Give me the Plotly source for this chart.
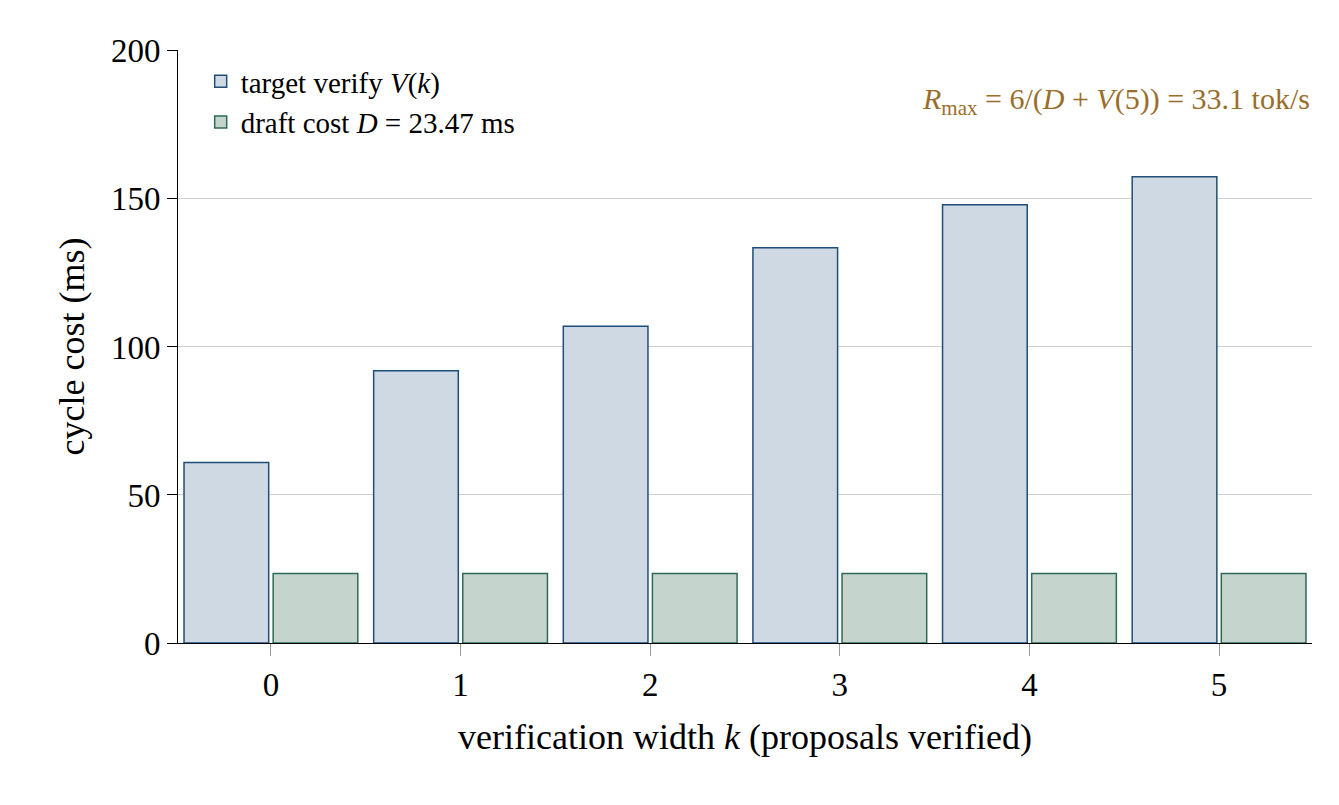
import plotly.graph_objects as go

k = [0, 1, 2, 3, 4, 5]
verify_ms = [61, 92, 107, 133.5, 148, 157.5]
draft_ms = [23.47] * 6
y_ticks = [0, 50, 100, 150, 200]

F = "Liberation Serif"
fig = go.Figure()
fig.add_bar(x=k, y=verify_ms, name="target verify <i>V</i>(<i>k</i>)",
            marker=dict(color="#cfd9e3", line=dict(color="#1f4e79", width=1.5)))
fig.add_bar(x=k, y=draft_ms, name="draft cost <i>D</i> = 23.47 ms",
            marker=dict(color="#c5d5ce", line=dict(color="#2e6b55", width=1.5)))
fig.update_layout(
    width=1339, height=805, barmode="group", bargap=0.06, bargroupgap=0.05,
    plot_bgcolor="white", paper_bgcolor="white",
    font=dict(family=F, size=30, color="black"),
    margin=dict(l=170, r=35, t=42, b=170),
    legend=dict(x=0.02, y=0.99, xanchor="left", yanchor="top", bgcolor="rgba(0,0,0,0)",
                font=dict(size=29)),
    xaxis=dict(range=[-0.49, 5.49], tickvals=k, ticks="outside", tickcolor="#999",
               ticklen=12, showline=True, linecolor="black", showgrid=False,
               title=dict(text="verification width <i>k</i> (proposals verified)", standoff=22),
               tickfont=dict(size=33)),
    yaxis=dict(range=[0, 200.3], tickvals=y_ticks, showgrid=True, gridcolor="#d0d0d0",
               showline=True, linecolor="black", ticks="outside", tickcolor="black", ticklen=10,
               zeroline=False, title=dict(text="cycle cost (ms)", standoff=15),
               tickfont=dict(size=33)),
    annotations=[dict(x=1, y=183, xref="paper", yref="y", xanchor="right", showarrow=False,
                      text="<i>R</i><sub>max</sub> = 6/(<i>D</i> + <i>V</i>(5)) = 33.1 tok/s",
                      font=dict(size=30, color="#9a6d2a", family=F))],
)
fig.write_html("out.html")
